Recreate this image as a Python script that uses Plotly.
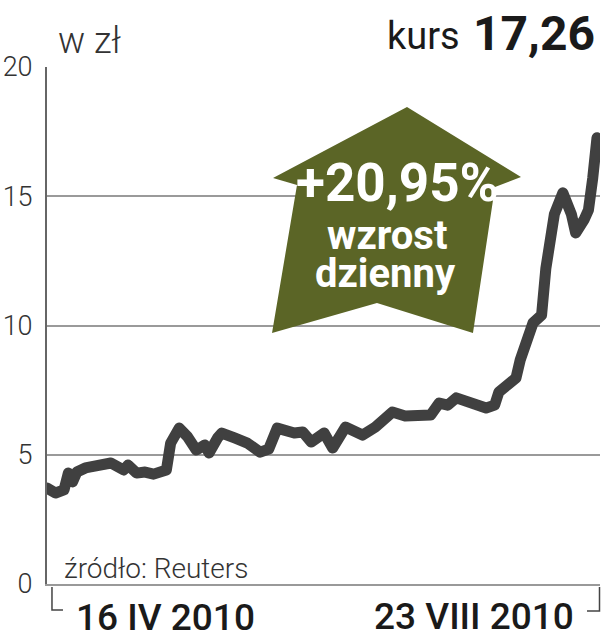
import plotly.graph_objects as go

# ---- data ----
dates = [
    "2010-04-16", "2010-04-18", "2010-04-20", "2010-04-21", "2010-04-22", "2010-04-23",
    "2010-04-25", "2010-04-28", "2010-04-29", "2010-05-01", "2010-05-04", "2010-05-05",
    "2010-05-07", "2010-05-09", "2010-05-11", "2010-05-14", "2010-05-15", "2010-05-17",
    "2010-05-19", "2010-05-21", "2010-05-23", "2010-05-24", "2010-05-26", "2010-05-27",
    "2010-05-30", "2010-06-02", "2010-06-05", "2010-06-07", "2010-06-09", "2010-06-13",
    "2010-06-15", "2010-06-17", "2010-06-20", "2010-06-22", "2010-06-25", "2010-06-29",
    "2010-07-02", "2010-07-06", "2010-07-09", "2010-07-13", "2010-07-15", "2010-07-17",
    "2010-07-19", "2010-07-21", "2010-07-24", "2010-07-28", "2010-07-30", "2010-07-31",
    "2010-08-02", "2010-08-04", "2010-08-05", "2010-08-07", "2010-08-08", "2010-08-10",
    "2010-08-11", "2010-08-13", "2010-08-14", "2010-08-15", "2010-08-17", "2010-08-18",
    "2010-08-20", "2010-08-21", "2010-08-22", "2010-08-23",
]
kurs = [
    3.71, 3.52, 3.64, 4.29, 3.95, 4.33,
    4.49, 4.56, 4.56, 4.68, 4.41, 4.60,
    4.29, 4.33, 4.25, 4.41, 5.45, 6.03,
    5.69, 5.18, 5.38, 5.07, 5.65, 5.84,
    5.65, 5.45, 5.10, 5.22, 6.03, 5.84,
    5.88, 5.49, 5.84, 5.26, 6.07, 5.76,
    6.07, 6.65, 6.50, 6.46, 6.54, 7.00,
    6.92, 7.20, 7.04, 6.81, 6.92, 7.43,
    7.70, 7.97, 8.67, 9.71, 10.10, 10.40,
    12.20, 14.30, 14.74, 15.13, 14.30, 13.58,
    14.10, 14.47, 15.70, 17.26,
]
y_ticks = [0, 5, 10, 15, 20]
y_tick_labels = ["0", "5", "10", "15", "20"]
date_start_label = "16 IV 2010"
date_end_label = "23 VIII 2010"
unit_label = "w zł"
kurs_label = "kurs"
kurs_value = "17,26"
change_label = "+20,95%"
change_text = ["wzrost", "dzienny"]
source_label = "źródło: Reuters"

# ---- layout geometry ----
W, H = 601, 640
ML, MR, MT, MB = 47, 1, 67, 56
PW, PH = W - ML - MR, H - MT - MB


def px(x):
    return (x - ML) / PW


def py(y):
    return (H - MB - y) / PH


FONT = "Roboto, 'Open Sans', sans-serif"
LINE_COL = "#404040"
ARROW_COL = "#5b6526"

fig = go.Figure()
fig.add_trace(go.Scatter(
    x=dates, y=kurs, mode="lines",
    line=dict(color=LINE_COL, width=11),
    hoverinfo="skip", showlegend=False,
))

# arrow polygon (pixel vertices -> paper)
arrow_px = [(407, 107), (521, 177), (495, 187), (473, 333), (377, 303),
            (272, 333), (297, 185), (273, 178)]
path = "M " + " L ".join(f"{px(a):.4f},{py(b):.4f}" for a, b in arrow_px) + " Z"

shapes = [
    dict(type="path", path=path, xref="paper", yref="paper",
         fillcolor=ARROW_COL, line=dict(width=0), layer="above"),
    # left bracket
    dict(type="path", xref="paper", yref="paper",
         path=f"M {px(52):.4f},{py(587):.4f} L {px(52):.4f},{py(610):.4f} L {px(63):.4f},{py(610):.4f}",
         line=dict(color="#444444", width=1.5)),
    # right bracket
    dict(type="path", xref="paper", yref="paper",
         path=f"M {px(599.5):.4f},{py(587):.4f} L {px(599.5):.4f},{py(611):.4f} L {px(587):.4f},{py(611):.4f}",
         line=dict(color="#444444", width=1.5)),
]

annotations = [
    dict(text=unit_label, x=px(56), y=py(41), xanchor="left", yanchor="middle",
         font=dict(family=FONT, size=36, color="#333333", weight=300)),
    dict(text=kurs_value, x=px(597), y=py(33), xanchor="right", yanchor="middle",
         font=dict(family=FONT, size=48, color="#1a1a1a", weight="bold")),
    dict(text=kurs_label, x=px(462), y=py(36), xanchor="right", yanchor="middle",
         font=dict(family=FONT, size=38, color="#1a1a1a")),
    dict(text=change_label, x=px(397), y=py(183), xanchor="center", yanchor="middle",
         font=dict(family=FONT, size=53, color="white", weight="bold")),
    dict(text=change_text[0], x=px(387), y=py(235), xanchor="center", yanchor="middle",
         font=dict(family=FONT, size=40, color="white", weight="bold")),
    dict(text=change_text[1], x=px(385), y=py(273), xanchor="center", yanchor="middle",
         font=dict(family=FONT, size=40, color="white", weight="bold")),
    dict(text=source_label, x=px(62), y=py(568), xanchor="left", yanchor="middle",
         font=dict(family=FONT, size=28, color="#333333", weight=300)),
    dict(text=date_start_label, x=px(74), y=py(617), xanchor="left", yanchor="middle",
         font=dict(family=FONT, size=37, color="#1a1a1a", weight=500)),
    dict(text=date_end_label, x=px(576), y=py(616), xanchor="right", yanchor="middle",
         font=dict(family=FONT, size=37, color="#1a1a1a", weight=500)),
]
for a in annotations:
    a.update(xref="paper", yref="paper", showarrow=False)

fig.update_layout(
    width=W, height=H,
    margin=dict(l=ML, r=MR, t=MT, b=MB, pad=0, autoexpand=False),
    paper_bgcolor="white", plot_bgcolor="white",
    shapes=shapes, annotations=annotations,
    xaxis=dict(range=["2010-04-16", "2010-08-23 17:00"], showgrid=False,
               showticklabels=False, ticks="", zeroline=False, automargin=False,
               showline=True, linecolor="#999999", linewidth=2),
    yaxis=dict(range=[0, 20], tickvals=y_ticks, ticktext=y_tick_labels,
               showgrid=True, gridcolor="#9a9a9a", gridwidth=1.5, zeroline=False,
               showline=True, linecolor="#666666", linewidth=2, ticks="",
               ticklabelstandoff=7, automargin=False,
               tickfont=dict(family=FONT, size=27, color="#333333", weight=300)),
)

js = """
(function(){
  document.documentElement.style.margin='0';
  document.body.style.margin='0';
  document.body.style.padding='0';
  document.body.style.overflow='hidden';
  function fix(){
    document.querySelectorAll('.scatterlayer path.js-line').forEach(function(p){
      p.style.strokeLinejoin='round'; p.style.strokeLinecap='round';
    });
  }
  fix(); setTimeout(fix, 50);
})();
"""
fig.write_html("out.html", post_script=js, config={"displayModeBar": False})
